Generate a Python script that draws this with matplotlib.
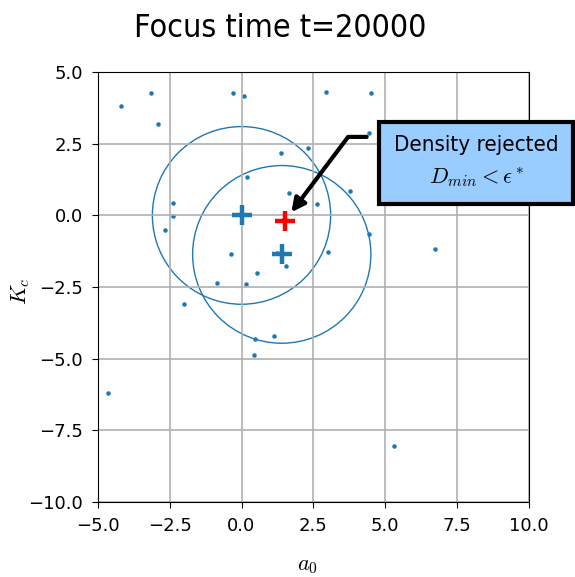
import matplotlib
matplotlib.use("Agg")
import matplotlib.pyplot as plt
from matplotlib.patches import Circle

plt.rcParams['font.family'] = 'DejaVu Sans'
plt.rcParams['mathtext.fontset'] = 'cm'

# sampled population at the focus time
pts_a0 = [-4.20, -3.16, -2.90, -0.28, 0.08, 2.93, 4.49, 4.43, 1.37, 2.31,
          0.19, 1.65, 3.79, 4.84, 2.62, -2.40, -2.40, -2.66, 4.42, -0.37,
          1.47, 1.25, 1.54, 3.01, 6.73, 0.54, -0.84, 0.16, -2.01, 0.47,
          1.13, 0.45, -4.65, 5.31]
pts_kc = [3.82, 4.26, 3.18, 4.28, 4.17, 4.31, 4.27, 2.86, 2.18, 2.34,
          1.33, 0.79, 0.84, 1.14, 0.39, 0.43, -0.01, -0.52, -0.66, -1.34,
          -0.13, -1.30, -1.77, -1.28, -1.18, -2.02, -2.35, -2.40, -3.09, -4.30,
          -4.21, -4.86, -6.21, -8.05]

# accepted centres and their neighbourhood radius
centres_a0 = [0.0, 1.40]
centres_kc = [0.0, -1.36]
radius = 3.1

# rejected candidate
rej_a0 = 1.50
rej_kc = -0.20

fig = plt.figure(figsize=(5.75, 5.77), dpi=100)
ax = fig.add_axes([0.170, 0.130, 0.750, 0.745])

ax.scatter(pts_a0, pts_kc, s=5, color='C0')
for cx, cy in zip(centres_a0, centres_kc):
    ax.add_patch(Circle((cx, cy), radius, fill=False, ec='C0', lw=1))
ax.plot(centres_a0, centres_kc, '+', color='C0', ms=15, mew=3.2)
ax.plot([rej_a0], [rej_kc], '+', color='red', ms=15, mew=3.2)

ax.text(8.16, 1.86, "Density rejected\n$D_{min} < \\epsilon^*$",
        ha='center', va='center', multialignment='center', fontsize=16,
        fontstretch='condensed', linespacing=1.55, clip_on=False, zorder=5,
        bbox=dict(boxstyle='square,pad=0.66', fc='#99ccff', ec='black', lw=3))
ax.annotate("", xy=(rej_a0, rej_kc), xytext=(4.45, 2.74),
            arrowprops=dict(arrowstyle='-|>,head_length=0.8,head_width=0.4',
                            color='black', lw=3, shrinkA=2, shrinkB=8,
                            connectionstyle='angle,angleA=0,angleB=53,rad=0'),
            zorder=4)

ax.set_xlim(-5, 10)
ax.set_ylim(-10, 5)
ax.set_xticks([-5, -2.5, 0, 2.5, 5, 7.5, 10])
ax.set_yticks([-10, -7.5, -5, -2.5, 0, 2.5, 5])
ax.tick_params(labelsize=13, length=4.5, pad=6)
ax.grid(True, color='#b0b0b0', lw=1.2)
ax.set_xlabel("$a_0$", fontsize=16)
ax.set_ylabel("$K_c$", fontsize=16)
ax.xaxis.set_label_coords(0.486, -0.125)
ax.yaxis.set_label_coords(-0.152, 0.49)
fig.suptitle("Focus time t=20000", x=0.488, y=0.978, va='top',
             fontsize=23, fontstretch='condensed')

fig.savefig("out.png", dpi=100)
